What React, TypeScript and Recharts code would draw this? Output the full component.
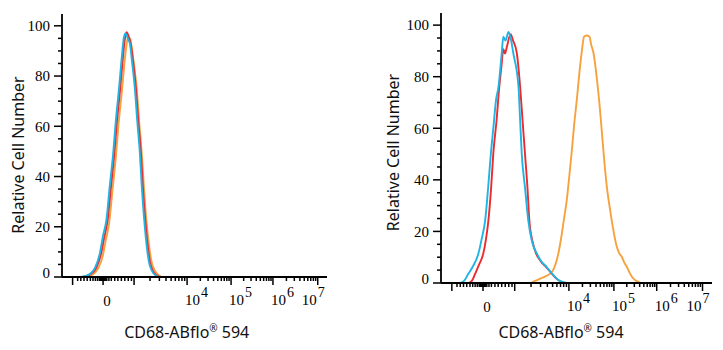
import { LineChart, Line, XAxis, YAxis, Label } from "recharts";

// channel scale 0..1000 across each plot
const leftCyan: [number, number][] = [
  [0, 0], [67, 0], [86, 0.3], [105, 1.2], [124, 3.5], [143, 9.5], [154, 16],
  [168, 23], [180, 36], [193, 49], [203, 62], [216, 76], [226, 88], [233, 95],
  [239, 97], [245, 96], [250, 94.5], [256, 93], [264, 86], [275, 75], [284, 62],
  [294, 49], [301, 36], [310, 23], [319, 13], [328, 6], [339, 2.5], [354, 0.6],
  [369, 0], [1000, 0],
];
const leftRed: [number, number][] = [
  [0, 0], [75, 0], [92, 0.4], [110, 1.3], [128, 3.4], [147, 9], [158, 15],
  [172, 22.5], [184, 35], [197, 48.5], [207, 61.5], [220, 75.5], [230, 87.5],
  [237, 94.5], [244, 97.5], [249, 96.5], [254, 95], [260, 92.5], [268, 86],
  [279, 75], [288, 62], [298, 49], [305, 36], [314, 23], [323, 13], [332, 6],
  [343, 2.5], [358, 0.6], [373, 0], [1000, 0],
];
const leftOrange: [number, number][] = [
  [0, 0], [80, 0], [98, 0.3], [116, 1], [134, 3], [153, 8], [164, 14],
  [178, 21.5], [190, 34], [203, 47.5], [213, 60.5], [226, 74], [236, 85.5],
  [243, 92], [249, 95.5], [253, 94], [257, 95], [262, 92], [270, 86], [282, 75],
  [291, 62], [301, 49], [309, 36], [318, 23], [328, 13], [337, 6.5], [349, 2.8],
  [365, 0.7], [382, 0], [1000, 0],
];

const rightCyan: [number, number][] = [
  [0, 0], [70, 0], [85, 0.8], [101, 3.6], [118, 6.5], [138, 11.4], [150, 17],
  [163, 24.3], [174, 37], [184, 50.2], [194, 61], [203, 70.9], [212, 76],
  [224, 89], [230, 95.5], [238, 94], [249, 97.4], [257, 95], [267, 89],
  [286, 76], [292, 63], [298, 50], [310, 37], [322, 24.3], [336, 16],
  [354, 11.4], [369, 8.5], [390, 6.2], [408, 3.8], [427, 1.7], [443, 0.6],
  [464, 0], [1000, 0],
];
const rightRed: [number, number][] = [
  [0, 0], [100, 0], [115, 1], [126, 3.6], [140, 7], [156, 11.4], [166, 17],
  [175, 24.3], [185, 37], [193, 50.2], [205, 63], [215, 76], [223, 84],
  [230, 90.7], [236, 89], [244, 92], [257, 96.5], [266, 94], [280, 89],
  [292, 76], [301, 63], [310, 50], [319, 37], [326, 24.3], [338, 16],
  [351, 11.4], [369, 8.3], [390, 6], [408, 3.7], [427, 1.6], [443, 0.5],
  [464, 0], [1000, 0],
];
const rightOrange: [number, number][] = [
  [0, 0], [329, 0], [347, 0.8], [366, 1.7], [384, 2.5], [403, 3.6], [416, 5.5],
  [427, 8.8], [436, 13], [446, 19.2], [454, 25], [464, 32], [473, 41],
  [483, 51.5], [491, 61], [501, 70.9], [513, 83.8], [521, 91], [528, 95.5],
  [536, 96], [548, 95.5], [554, 92.5], [563, 89], [571, 83], [577, 77.4],
  [586, 68], [594, 58], [602, 48], [612, 37.3], [623, 29], [634, 21.7],
  [649, 14], [658, 11.5], [668, 10], [676, 8], [686, 6.2], [695, 4.2],
  [705, 2.3], [717, 1.1], [729, 0.4], [742, 0], [1000, 0],
];

// x axis ticks (channel positions of -10^3, 0, 10^3, 10^4 .. 10^7)
const majorTicks = [40, 155, 272, 472, 638, 796, 965];
const zeroMinorTicks = [
  59, 71, 83, 95, 107, 117, 126, 134, 141, 146, 148, 150, 152, 154, 157, 159,
  161, 163, 169, 177, 186, 199, 211, 224, 237, 250, 262,
];
const xLabels = [
  { at: 155, base: "0", exp: "" },
  { at: 472, base: "10", exp: "4" },
  { at: 638, base: "10", exp: "5" },
  { at: 796, base: "10", exp: "6" },
  { at: 965, base: "10", exp: "7" },
];
const yMajor = [0, 20, 40, 60, 80, 100];

const RED = "#ec2b2e";
const CYAN = "#1fb4e4";
const ORANGE = "#f6a23f";

const decadeMinor: number[] = [];
for (let i = 2; i < majorTicks.length - 1; i++) {
  const a = majorTicks[i];
  const b = majorTicks[i + 1];
  for (let k = 2; k <= 9; k++) decadeMinor.push(a + Math.log10(k) * (b - a));
}
const allXTicks = [...majorTicks, ...zeroMinorTicks, ...decadeMinor].sort(
  (p, q) => p - q
);
const allYTicks: number[] = [];
for (let v = 0; v <= 100; v += 5) allYTicks.push(v);

const toRows = (pts: [number, number][]) => pts.map(([x, y]) => ({ x, y }));

const serif = "'Liberation Serif', 'DejaVu Serif', serif";
const sans = "'Noto Sans', 'DejaVu Sans', sans-serif";

function XTick(props: any) {
  const { x, y, payload } = props;
  const v = payload.value;
  const major = majorTicks.includes(v);
  const lab = xLabels.find((l) => l.at === v);
  return (
    <g>
      <line x1={x} x2={x} y1={y} y2={y + (major ? 8 : 4)} stroke="#000" strokeWidth={1.5} />
      {lab && lab.exp === "" && (
        <text x={x + 4} y={y + 28.5} textAnchor="middle" fontFamily={serif} fontSize={15} fill="#000">
          {lab.base}
        </text>
      )}
      {lab && lab.exp !== "" && (
        <text
          x={lab.exp === "7" ? x + 7 : x - 2}
          y={y + 27.5}
          textAnchor={lab.exp === "7" ? "end" : "start"}
          fontFamily={serif}
          fill="#000"
        >
          <tspan fontSize={15}>{lab.base}</tspan>
          <tspan fontSize={14} dy={-8} dx={1}>{lab.exp}</tspan>
        </text>
      )}
    </g>
  );
}

function YTick(props: any) {
  const { x, y, payload } = props;
  const v = payload.value;
  const major = yMajor.includes(v);
  return (
    <g>
      <line x1={x - (major ? 8 : 4)} x2={x} y1={y} y2={y} stroke="#000" strokeWidth={1.5} />
      {major && (
        <text
          x={x - 12}
          y={v === 0 ? y - 4 : y}
          dy="0.35em"
          textAnchor="end"
          fontFamily={serif}
          fontSize={15}
          fill="#000"
        >
          {v}
        </text>
      )}
    </g>
  );
}

function Panel(props: {
  width: number;
  top: number;
  right: number;
  yAxisWidth: number;
  xAxisHeight: number;
  xLabelX: number;
  yLabelX: number;
  yLabelY: number;
  series: { data: [number, number][]; color: string }[];
}) {
  const { width, top, right, yAxisWidth, xAxisHeight, xLabelX, yLabelX, yLabelY, series } = props;
  return (
    <LineChart width={width} height={350} margin={{ top, right, left: 0, bottom: 0 }}>
      <XAxis
        dataKey="x"
        type="number"
        domain={[0, 1000]}
        ticks={allXTicks}
        interval={0}
        tickSize={0}
        tickMargin={0}
        tickLine={false}
        tick={<XTick />}
        height={xAxisHeight}
        axisLine={{ stroke: "#000", strokeWidth: 1.8 }}
        allowDataOverflow
      >
        <Label
          content={() => (
            <text x={xLabelX} y={337.5} textAnchor="middle" fontFamily={sans} fontSize={16} fill="#111">
              <tspan>CD68-ABflo</tspan>
              <tspan fontSize={10} dy={-6}>®</tspan>
              <tspan dy={6}> 594</tspan>
            </text>
          )}
        />
      </XAxis>
      <XAxis xAxisId="top" orientation="top" type="number" domain={[0, 1000]} height={0} tick={false} tickLine={false} axisLine={{ stroke: "#444", strokeWidth: 1.5 }} />
      <YAxis
        type="number"
        domain={[0, 104.7]}
        ticks={allYTicks}
        interval={0}
        tickSize={0}
        tickMargin={0}
        tickLine={false}
        tick={<YTick />}
        width={yAxisWidth}
        axisLine={{ stroke: "#000", strokeWidth: 1.8 }}
        allowDataOverflow
      >
        <Label
          content={() => (
            <text
              transform={`translate(${yLabelX},${yLabelY}) rotate(-90)`}
              textAnchor="middle"
              fontFamily={sans}
              fontSize={16}
              fill="#111"
            >
              Relative Cell Number
            </text>
          )}
        />
      </YAxis>
      <YAxis yAxisId="right" orientation="right" type="number" domain={[0, 104.7]} width={0} tick={false} tickLine={false} axisLine={{ stroke: "#444", strokeWidth: 1.5 }} />
      {series.map((s, i) => (
        <Line
          key={i}
          data={toRows(s.data)}
          dataKey="y"
          type="monotone"
          stroke={s.color}
          strokeWidth={1.9}
          dot={false}
          activeDot={false}
          isAnimationActive={false}
        />
      ))}
    </LineChart>
  );
}

export default function App() {
  return (
    <div style={{ position: "absolute", left: 0, top: 0, width: 723, height: 350, background: "#fff", display: "flex" }}>
      <Panel
        width={361}
        top={14}
        right={34}
        yAxisWidth={62}
        xAxisHeight={73}
        xLabelX={186.7}
        yLabelX={23.5}
        yLabelY={155}
        series={[
          { data: leftOrange, color: ORANGE },
          { data: leftRed, color: RED },
          { data: leftCyan, color: CYAN },
        ]}
      />
      <Panel
        width={362}
        top={13}
        right={11}
        yAxisWidth={80}
        xAxisHeight={67}
        xLabelX={200}
        yLabelX={37.5}
        yLabelY={152.5}
        series={[
          { data: rightOrange, color: ORANGE },
          { data: rightRed, color: RED },
          { data: rightCyan, color: CYAN },
        ]}
      />
    </div>
  );
}
